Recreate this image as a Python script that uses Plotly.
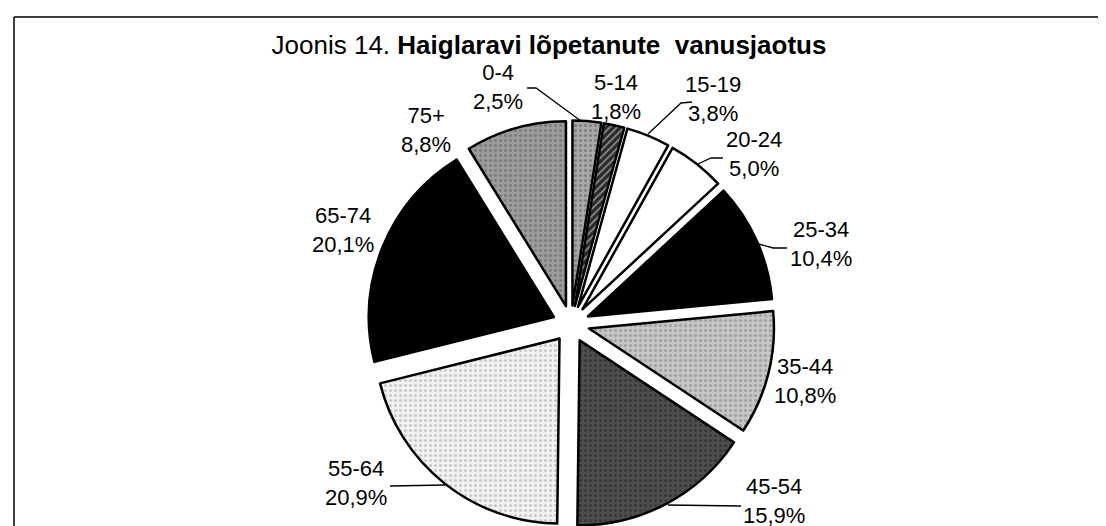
import plotly.graph_objects as go

# ---- data ----
age_groups = ["0-4", "5-14", "15-19", "20-24", "25-34", "35-44", "45-54", "55-64", "65-74", "75+"]
shares = [2.5, 1.8, 3.8, 5.0, 10.4, 10.8, 15.9, 20.9, 20.1, 8.8]

# ---- styling ----
W, H = 1106, 526
FONT = "Liberation Sans, Arial, sans-serif"

fill_colors = ["#a9a9a9", "#2a2a2a", "#ffffff", "#ffffff", "#000000",
               "#c6c6c6", "#4e4e4e", "#f2f2f2", "#000000", "#9c9c9c"]
pattern_shapes = [".", "/", "", "", "", ".", ".", ".", "", "."]
pattern_fg = ["#555555", "#ffffff", "#000000", "#000000", "#000000",
              "#7a7a7a", "#1e1e1e", "#a0a0a0", "#000000", "#5a5a5a"]

# label centres (pixels) and leader lines (pixels), layout only
label_pos = [(490, 79), (608, 89), (705, 91), (746, 146), (813, 236),
             (797, 373), (766, 493), (348, 475), (335, 222), (418, 122)]
leaders = [
    [(519, 80), (528, 80), (573, 113)],
    None,
    [(684, 94), (673, 95), (640, 126)],
    [(715, 150), (703, 150), (690, 156)],
    [(779, 240), (765, 240), (747, 235)],
    None,
    [(733, 498), (660, 497)],
    [(382, 478), (437, 477)],
    None,
    None,
]

def px(x):
    return x / W

def py(y):
    return 1 - y / H

cx, cy, half = 563, 316, 203.5

fig = go.Figure(go.Pie(
    labels=age_groups,
    values=shares,
    sort=False,
    direction="clockwise",
    rotation=0,
    pull=[0.1] * len(shares),
    textinfo="none",
    hoverinfo="label+percent",
    showlegend=False,
    marker=dict(
        colors=fill_colors,
        line=dict(color="#000000", width=2.5),
        pattern=dict(shape=pattern_shapes, fgcolor=pattern_fg, size=5,
                     solidity=0.3, fillmode="overlay"),
    ),
    domain=dict(x=[px(cx - half), px(cx + half)],
                y=[(H - cy - half) / H, (H - cy + half) / H]),
))

annotations = []
for lab, val, (lx, ly) in zip(age_groups, shares, label_pos):
    pct = f"{val:.1f}%".replace(".", ",")
    annotations.append(dict(
        x=px(lx), y=py(ly), xref="paper", yref="paper",
        text=f"{lab}<br>{pct}", showarrow=False,
        xanchor="center", yanchor="middle", align="center",
        font=dict(family=FONT, size=22, color="#000000"),
    ))

shapes = [
    dict(type="line", xref="paper", yref="paper", x0=px(6), y0=py(9), x1=1, y1=py(9),
         line=dict(color="#000000", width=1.5)),
    dict(type="line", xref="paper", yref="paper", x0=px(6), y0=py(9), x1=px(6), y1=0,
         line=dict(color="#000000", width=1.5)),
]
for pts in leaders:
    if not pts:
        continue
    path = "M " + " L ".join(f"{px(x):.5f},{py(y):.5f}" for x, y in pts)
    shapes.append(dict(type="path", xref="paper", yref="paper", path=path,
                       line=dict(color="#000000", width=1.3)))

fig.update_layout(
    width=W, height=H,
    margin=dict(l=0, r=0, t=0, b=0),
    paper_bgcolor="#ffffff",
    plot_bgcolor="#ffffff",
    separators=", ",
    title=dict(
        text="Joonis 14. <b>Haiglaravi lõpetanute\u00a0 vanusjaotus</b>",
        x=px(541), xanchor="center", xref="paper",
        y=py(37), yanchor="middle", yref="container",
        font=dict(family=FONT, size=26, color="#000000"),
    ),
    annotations=annotations,
    shapes=shapes,
)

fig.write_html("out.html")
